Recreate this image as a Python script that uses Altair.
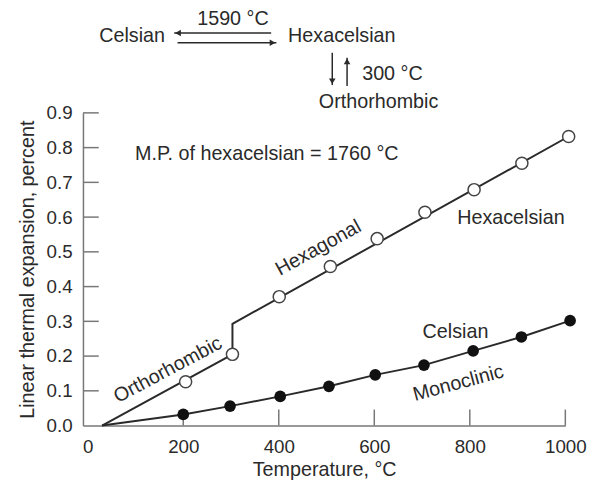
import altair as alt
import pandas as pd

# ---- data ----
temp_hex = [205, 303, 401, 508, 606, 706, 809, 909, 1007]
exp_hex = [0.126, 0.205, 0.371, 0.458, 0.538, 0.614, 0.679, 0.755, 0.832]
temp_cel = [200, 298, 403, 505, 602, 704, 807, 908, 1010]
exp_cel = [0.032, 0.056, 0.084, 0.113, 0.146, 0.174, 0.215, 0.255, 0.302]

hex_line_t = [30, 303, 303, 1007]
hex_line_e = [0.0, 0.205, 0.293, 0.832]
cel_line_t = [30] + temp_cel
cel_line_e = [0.0] + exp_cel

x_ticks = [200, 400, 600, 800, 1000]
x_labels = [0, 200, 400, 600, 800, 1000]
y_ticks = [0.1, 0.2, 0.3, 0.4, 0.5, 0.6, 0.7, 0.8, 0.9]
y_labels = [0.0, 0.1, 0.2, 0.3, 0.4, 0.5, 0.6, 0.7, 0.8, 0.9]

ann_text = ["M.P. of hexacelsian = 1760  °C", "Hexacelsian", "Hexagonal", "Orthorhombic",
            "Celsian", "Monoclinic", "Celsian", "Hexacelsian", "1590 °C", "300 °C", "Orthorhombic"]
ann_x = [99, 886, 483, 168, 770, 776, 93, 532, 304, 638, 609]
ann_y = [0.781, 0.596, 0.511, 0.160, 0.269, 0.122, 1.121, 1.122, 1.170, 1.012, 0.931]
ann_angle = [0, 0, 331, 332, 0, 345, 0, 0, 0, 0, 0]
ann_align = ["left", "center", "center", "center", "center", "center",
             "center", "center", "center", "center", "center"]

# arrows of the phase diagram (start, end in data units)
arr_x1 = [384, 188, 512, 543]
arr_x2 = [181, 395, 512, 543]
arr_y1 = [1.130, 1.102, 1.073, 0.977]
arr_y2 = [1.130, 1.102, 0.980, 1.059]
head_x = [189, 387, 512, 543]
head_y = [1.130, 1.102, 0.991, 1.048]
head_shape = ["triangle-left", "triangle-right", "triangle-down", "triangle-up"]

FONT = "Liberation Sans"
FS = 20
INK = "#2a2a2a"
AXC = "#777777"

xs = alt.Scale(domain=[-10, 1000], nice=False, zero=False)
ys = alt.Scale(domain=[0, 0.9], nice=False, zero=False)

x_axis = alt.Axis(values=x_labels, format="d", title="Temperature, °C", ticks=False,
                  grid=False, labelFontSize=19, titleFontSize=FS, labelFont=FONT,
                  titleFont=FONT, labelColor=INK, titleColor=INK,
                  titleFontWeight="normal", domainColor=AXC, domainWidth=1.5,
                  labelPadding=12, titlePadding=4, labelFlush=False, labelOverlap=False)
y_axis = alt.Axis(values=y_labels, format=".1f", title="Linear thermal expansion, percent",
                  ticks=False, grid=False, labelFontSize=19, titleFontSize=FS,
                  labelFont=FONT, titleFont=FONT, labelColor=INK, titleColor=INK,
                  titleFontWeight="normal", domainColor=AXC, domainWidth=1.5,
                  labelPadding=11, titlePadding=9, labelFlush=False, labelOverlap=False)


def X(f):
    return alt.X(f + ":Q", scale=xs, axis=x_axis)


def Y(f):
    return alt.Y(f + ":Q", scale=ys, axis=y_axis)


hex_pts = pd.DataFrame({"t": temp_hex, "e": exp_hex})
cel_pts = pd.DataFrame({"t": temp_cel, "e": exp_cel})
hex_ln = pd.DataFrame({"t": hex_line_t, "e": hex_line_e, "o": list(range(len(hex_line_t)))})
cel_ln = pd.DataFrame({"t": cel_line_t, "e": cel_line_e, "o": list(range(len(cel_line_t)))})

hex_line = alt.Chart(hex_ln).mark_line(color=INK, strokeWidth=2).encode(
    x=X("t"), y=Y("e"), order="o:Q")
cel_line = alt.Chart(cel_ln).mark_line(color=INK, strokeWidth=2).encode(
    x=X("t"), y=Y("e"), order="o:Q")
hex_marks = alt.Chart(hex_pts).mark_point(shape="circle", filled=True, fill="white",
                                          stroke="#444444", strokeWidth=1.5, size=150,
                                          opacity=1).encode(x=X("t"), y=Y("e"))
cel_marks = alt.Chart(cel_pts).mark_point(shape="circle", filled=True, color="#111111",
                                          size=140, opacity=1).encode(x=X("t"), y=Y("e"))

# inward ticks
xt = pd.DataFrame({"t": x_ticks, "e0": [0.0] * len(x_ticks), "e1": [0.046] * len(x_ticks)})
yt = pd.DataFrame({"e": y_ticks, "t0": [-10] * len(y_ticks), "t1": [23] * len(y_ticks)})
xtick = alt.Chart(xt).mark_rule(color=AXC, strokeWidth=1.5).encode(
    x=X("t"), y=Y("e0"), y2="e1:Q")
ytick = alt.Chart(yt).mark_rule(color=AXC, strokeWidth=1.5).encode(
    y=Y("e"), x=X("t0"), x2="t1:Q")

ann = pd.DataFrame({"txt": ann_text, "x": ann_x, "y": ann_y, "a": ann_angle, "al": ann_align})
ann_left = alt.Chart(ann[ann.al == "left"]).mark_text(
    font=FONT, fontSize=FS, color=INK, align="left", baseline="middle").encode(
    x=X("x"), y=Y("y"), text="txt:N")
ann_center = alt.Chart(ann[ann.al == "center"]).mark_text(
    font=FONT, fontSize=FS, color=INK, align="center", baseline="middle").encode(
    x=X("x"), y=Y("y"), text="txt:N", angle=alt.Angle("a:Q", scale=None))

arr = pd.DataFrame({"x1": arr_x1, "x2": arr_x2, "y1": arr_y1, "y2": arr_y2})
arrows = alt.Chart(arr).mark_rule(color=INK, strokeWidth=1.5).encode(
    x=X("x1"), x2="x2:Q", y=Y("y1"), y2="y2:Q")
heads = pd.DataFrame({"x": head_x, "y": head_y, "s": head_shape})
arrow_heads = alt.Chart(heads).mark_point(filled=True, color=INK, size=45, opacity=1).encode(
    x=X("x"), y=Y("y"), shape=alt.Shape("s:N", scale=None))

chart = alt.layer(hex_line, cel_line, xtick, ytick, hex_marks, cel_marks,
                  ann_left, ann_center, arrows, arrow_heads).properties(
    width=489, height=317,
    autosize=alt.AutoSizeParams(type="none"),
    padding={"left": 76, "top": 103, "right": 24, "bottom": 62},
    background="white",
).configure_view(stroke=None)

chart.save("out.html", embed_options={"renderer": "svg", "actions": False})
